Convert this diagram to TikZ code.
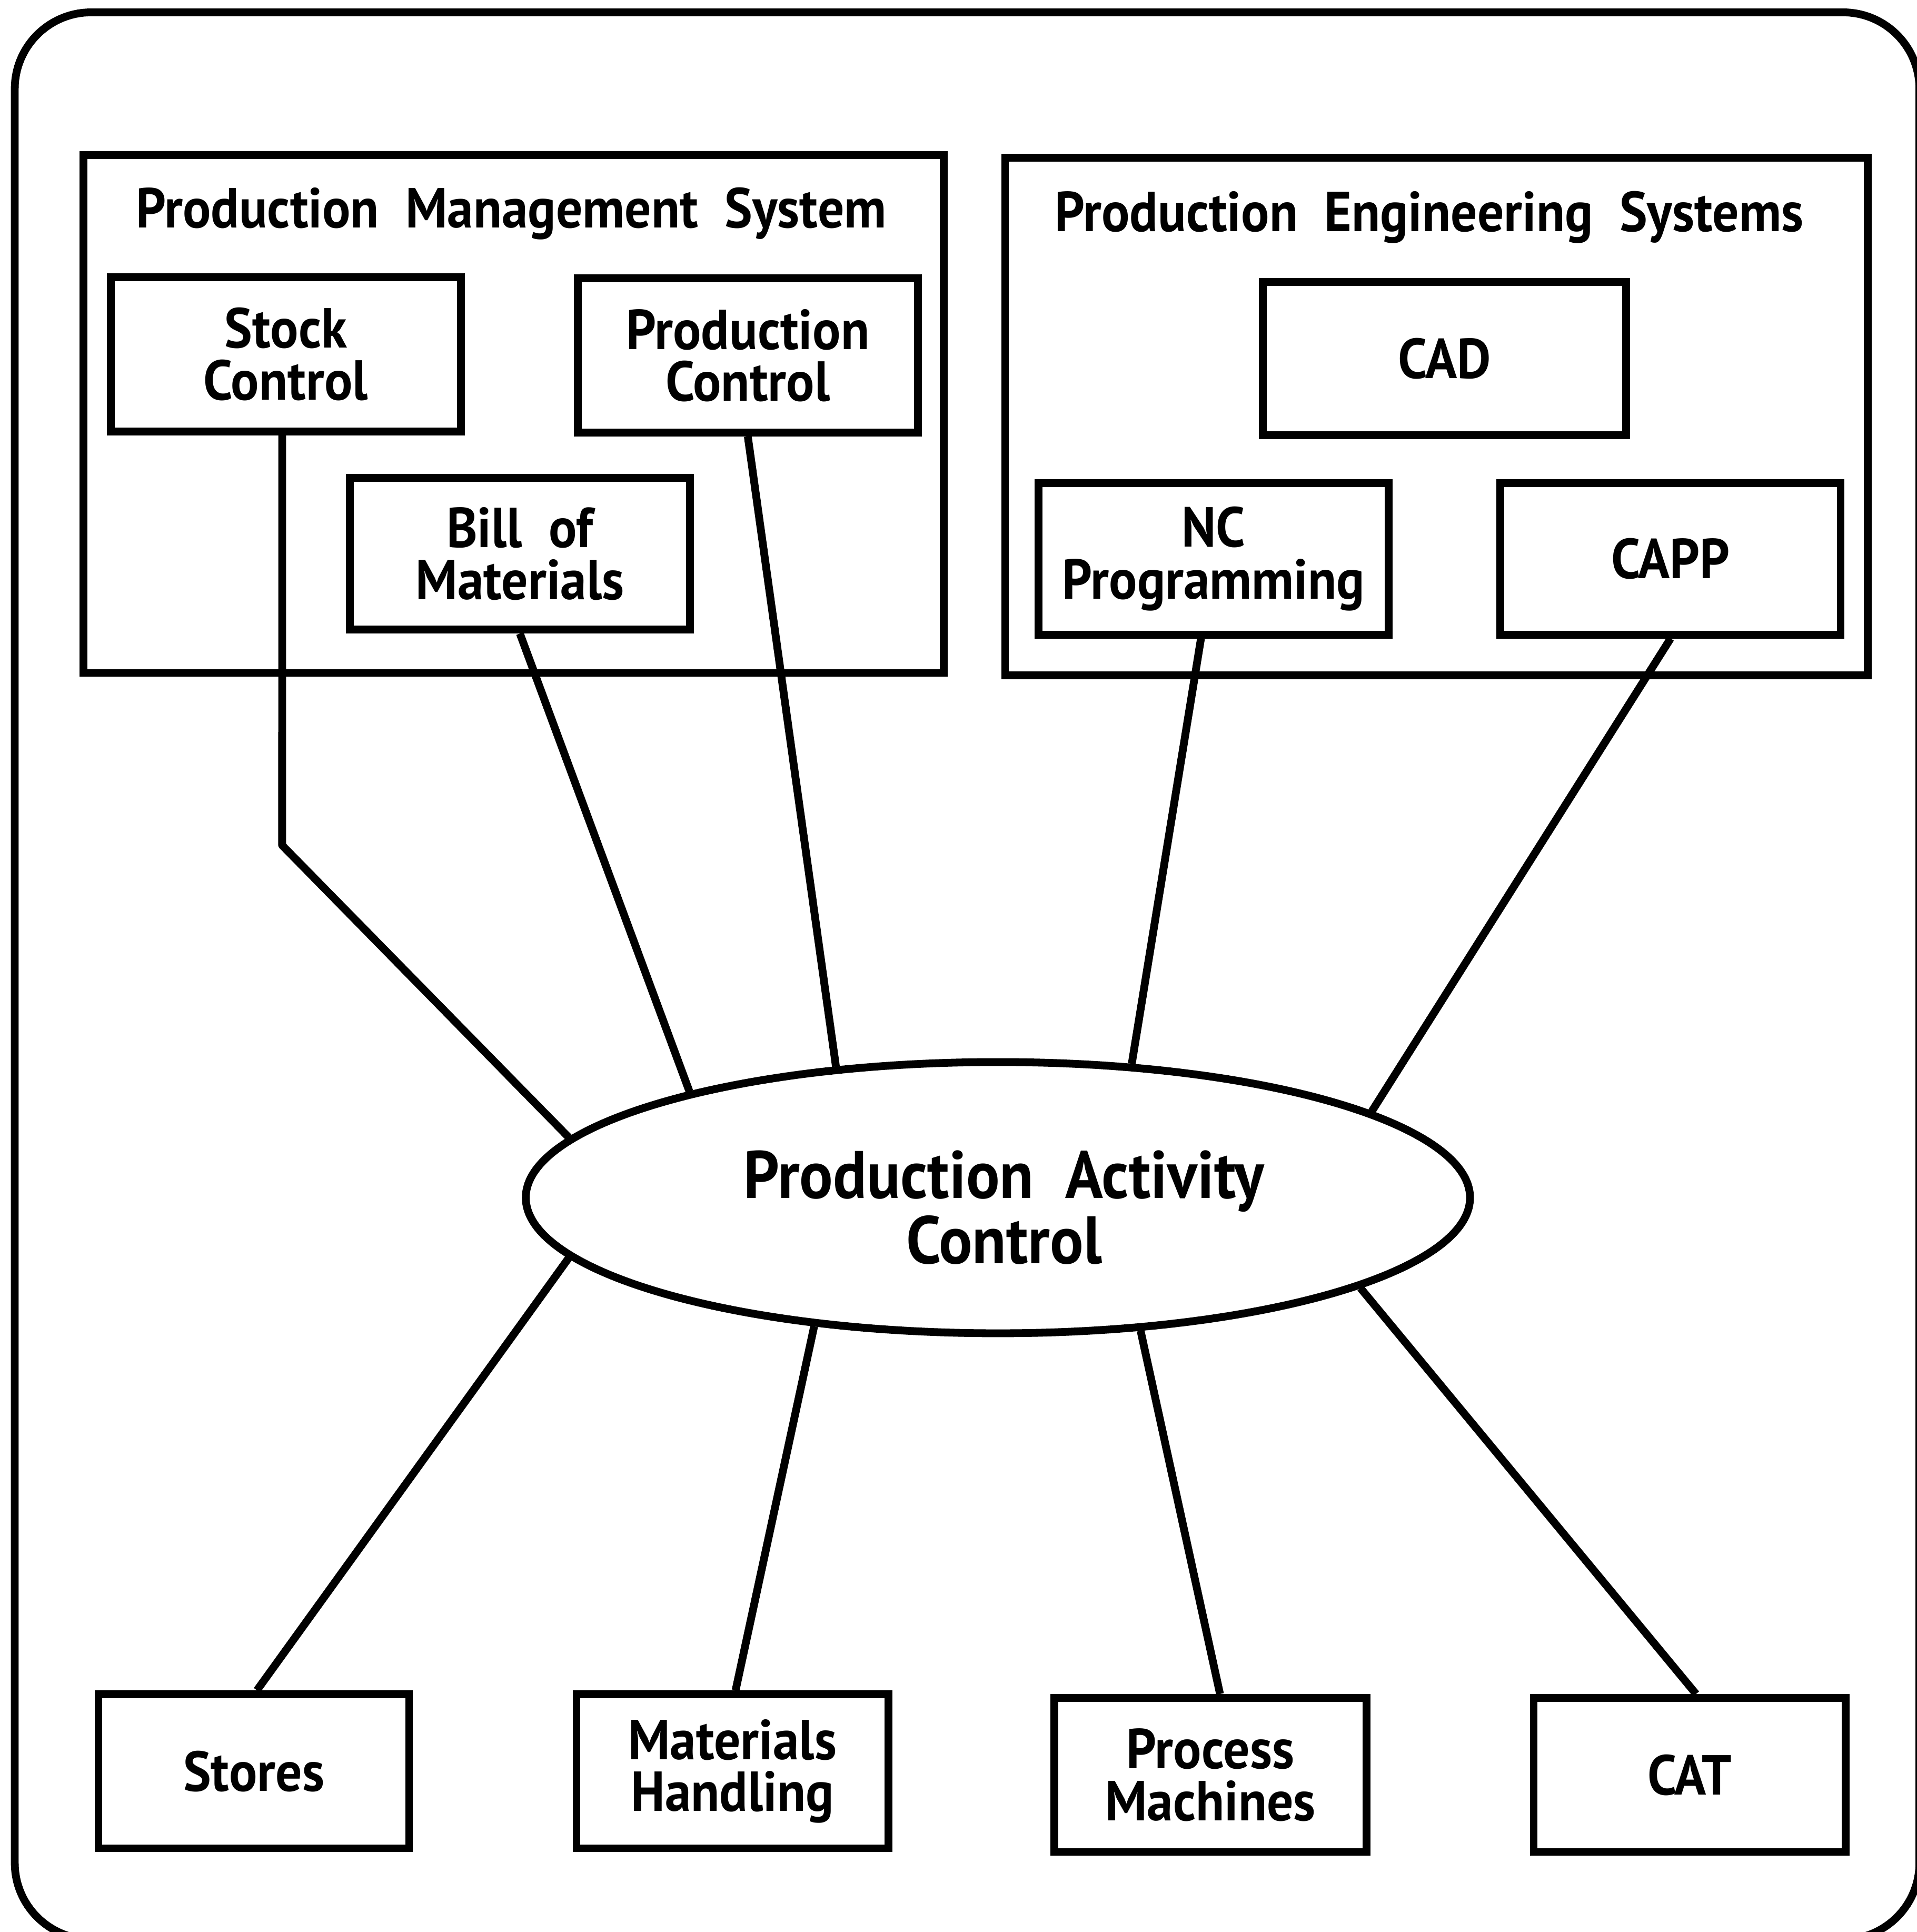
\documentclass[tikz,border=0pt]{standalone}
\usepackage{fontspec}
\setmainfont{PT Sans}[FakeStretch=0.93]
\usetikzlibrary{shapes.geometric,calc}
\tikzset{
  ln/.style={line width=1.8pt},
  box/.style={draw, ln, rectangle, inner sep=0pt, align=center, font=\fontsize{13}{12}\selectfont\bfseries},
  group/.style={draw, ln, rectangle, inner sep=0pt},
  gtitle/.style={anchor=base, inner sep=0pt, font=\fontsize{13}{12}\selectfont\bfseries},
  pacstyle/.style={draw, ln, ellipse, inner sep=0pt, fill=white},
  pactext/.style={inner sep=0pt, align=center, font=\fontsize{15.5}{15}\selectfont\bfseries},
  conn/.style={ln, line join=round}
}
\begin{document}
\begin{tikzpicture}[x=0.01cm,y=-0.01cm]
\path[use as bounding box] (0,0) rectangle (1556,1568);
\clip (0,0) rectangle (1556,1568);
\draw[ln, rounded corners=0.62cm] (12,10) rectangle (1558,1574);

% Production Management System
\node[group, minimum width=6.98cm, minimum height=4.20cm] (pms) at (417,336) {};
\node[gtitle] (pmst) at (415,185) {Production\ \ Management\ \ System};
\node[box, minimum width=2.84cm, minimum height=1.25cm] (stock) at (232,287.5) {Stock\\Control};
\node[box, minimum width=2.76cm, minimum height=1.25cm] (prodc) at (607,288.5) {Production\\Control};
\node[box, minimum width=2.76cm, minimum height=1.23cm] (bom) at (422,449.5) {Bill\ \ of\\Materials};

% Production Engineering Systems
\node[group, minimum width=7.00cm, minimum height=4.20cm] (pes) at (1166,338) {};
\node[gtitle] (pest) at (1160,188) {Production\ \ Engineering\ \ Systems};
\node[box, minimum width=2.95cm, minimum height=1.24cm] (cad) at (1172.5,291) {CAD};
\node[box, minimum width=2.84cm, minimum height=1.23cm] (nc) at (985,453.5) {NC\\Programming};
\node[box, minimum width=2.76cm, minimum height=1.23cm] (capp) at (1356,453.5) {CAPP};

% Central ellipse
\node[pacstyle, minimum width=7.66cm, minimum height=2.20cm] (pac) at (810,972) {};
\node[pactext] (pact) at (815,980) {Production\ \ Activity\\Control};

% Bottom boxes
\node[box, minimum width=2.52cm, minimum height=1.25cm] (stores) at (206,1437.5) {Stores};
\node[box, minimum width=2.53cm, minimum height=1.25cm] (mh) at (594.5,1437.5) {Materials\\Handling};
\node[box, minimum width=2.53cm, minimum height=1.25cm] (pm) at (982.5,1440.5) {Process\\Machines};
\node[box, minimum width=2.53cm, minimum height=1.25cm] (cat) at (1371.5,1440.5) {CAT};

\coordinate (bend) at (229,686);

% Connectors
\draw[conn] ($(stock.south west)!0.49!(stock.south east)$) -- (bend) -- (pac.172);
\draw[conn] (bom.south) -- (pac.161.6);
\draw[conn] (prodc.south) -- (pac.141.2);
\draw[conn] ($(nc.south west)!0.465!(nc.south east)$) -- (pac.45.8);
\draw[conn] (capp.south) -- (pac.13.1);
\draw[conn] ($(stores.north west)!0.51!(stores.north east)$) -- (pac.188.2);
\draw[conn] ($(mh.north west)!0.51!(mh.north east)$) -- (pac.215.4);
\draw[conn] ($(pm.north west)!0.53!(pm.north east)$) -- (pac.317.8);
\draw[conn] ($(cat.north west)!0.52!(cat.north east)$) -- (pac.346.8);
\end{tikzpicture}
\end{document}
